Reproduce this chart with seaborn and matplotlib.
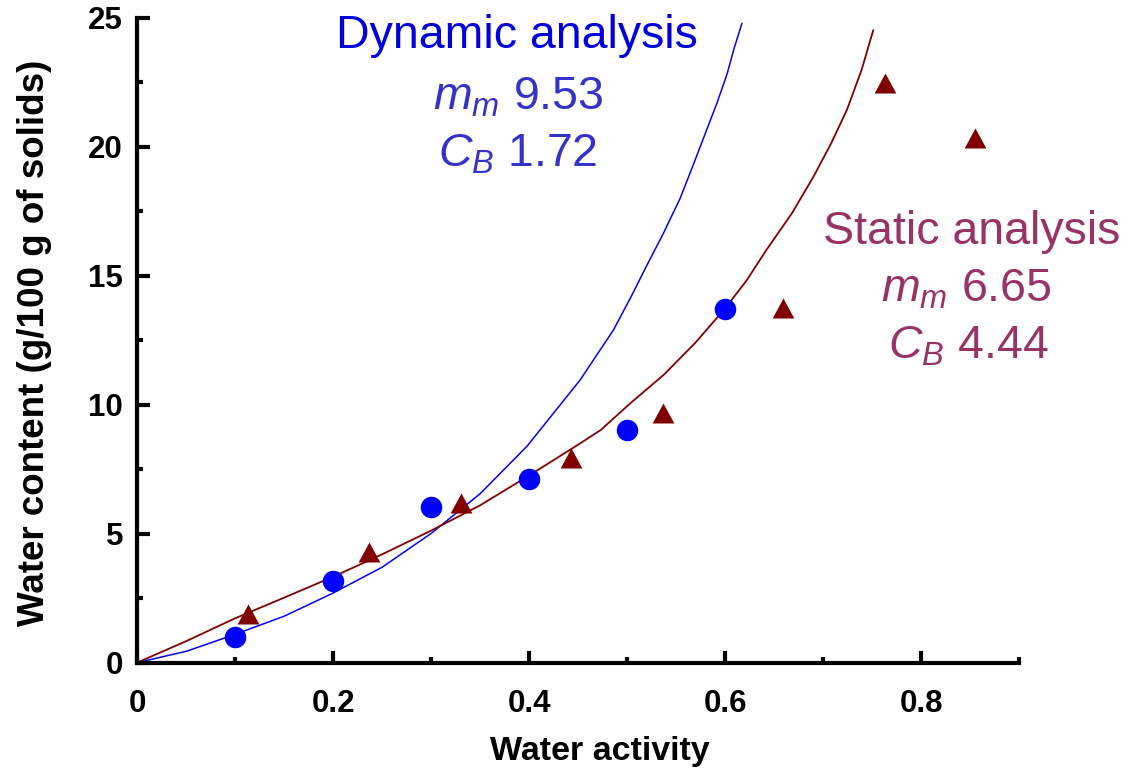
import numpy as np
import matplotlib
matplotlib.use("Agg")
import matplotlib.pyplot as plt
import seaborn as sns
from matplotlib.ticker import FixedLocator, MultipleLocator

# ---------------------------------------------------------
# data
# ---------------------------------------------------------

# dynamic analysis (blue circles)
aw_dyn = [0.1, 0.2, 0.3, 0.4, 0.5, 0.6]
m_dyn = [1.0, 3.17, 6.05, 7.12, 9.02, 13.70]

# static analysis (dark red triangles)
aw_sta = [0.113, 0.237, 0.330, 0.443, 0.537, 0.659, 0.763, 0.855]
m_sta = [1.88, 4.30, 6.18, 7.95, 9.69, 13.76, 22.48, 20.33]

# fitted curves
aw_dyn_fit = [0, 0.051, 0.100, 0.150, 0.200, 0.250, 0.300, 0.350, 0.398,
              0.452, 0.469, 0.486, 0.504, 0.520, 0.537, 0.554, 0.568,
              0.581, 0.592, 0.602, 0.609, 0.617]
m_dyn_fit = [0, 0.45, 1.10, 1.80, 2.70, 3.70, 5.01, 6.55, 8.40,
             10.96, 11.93, 12.90, 14.19, 15.40, 16.65, 18.00, 19.36,
             20.65, 21.74, 22.84, 23.81, 24.78]

aw_sta_fit = [0, 0.051, 0.100, 0.150, 0.200, 0.250, 0.300, 0.350, 0.398,
              0.452, 0.473, 0.503, 0.537, 0.569, 0.600, 0.622, 0.642,
              0.668, 0.690, 0.708, 0.724, 0.739, 0.751]
m_sta_fit = [0, 0.85, 1.72, 2.52, 3.33, 4.20, 5.12, 6.10, 7.21,
             8.50, 9.02, 10.05, 11.15, 12.38, 13.74, 14.83, 16.00,
             17.42, 18.84, 20.13, 21.42, 22.97, 24.52]

x_ticks = [0, 0.2, 0.4, 0.6, 0.8]
x_tick_labels = ["0", "0.2", "0.4", "0.6", "0.8"]
y_ticks = [0, 5, 10, 15, 20, 25]
y_tick_labels = ["0", "5", "10", "15", "20", "25"]

dyn_lines = ["Dynamic analysis", r"$m_m$ 9.53", r"$C_B$ 1.72"]
sta_lines = ["Static analysis", r"$m_m$ 6.65", r"$C_B$ 4.44"]

# ---------------------------------------------------------
# style
# ---------------------------------------------------------

sns.set_style("ticks")
plt.rcParams["font.family"] = ["Liberation Sans", "DejaVu Sans"]
plt.rcParams["mathtext.fontset"] = "custom"
plt.rcParams["mathtext.rm"] = "Liberation Sans"
plt.rcParams["mathtext.it"] = "Liberation Sans:italic"
for key in ["text.color", "axes.labelcolor", "xtick.color",
            "ytick.color", "axes.edgecolor"]:
    plt.rcParams[key] = "black"

BLUE = "#0000ff"
DARK_RED = "#800000"

W, H = 1128, 777
fig = plt.figure(figsize=(W / 100, H / 100), dpi=100)
ax = fig.add_axes([137 / W, 1 - 662.7 / H, 882.4 / W, 645.0 / H])

# ---------------------------------------------------------
# curves and points
# ---------------------------------------------------------

sns.lineplot(x=aw_dyn_fit, y=m_dyn_fit, sort=False, estimator=None,
             color=BLUE, lw=1.1, ax=ax)
sns.lineplot(x=aw_sta_fit, y=m_sta_fit, sort=False, estimator=None,
             color=DARK_RED, lw=1.3, ax=ax)

sns.scatterplot(x=aw_dyn, y=m_dyn, color=BLUE, s=240, marker="o",
                linewidth=0, ax=ax, zorder=3)

tri = [(-1, -0.92), (1, -0.92), (0, 0.92)]
sns.scatterplot(x=aw_sta, y=m_sta, color=DARK_RED, s=245, marker=tri,
                linewidth=0, ax=ax, zorder=3)

# ---------------------------------------------------------
# axes
# ---------------------------------------------------------

ax.set_xlim(0, 0.9)
ax.set_ylim(0, 25)
sns.despine(ax=ax)
for side in ["left", "bottom"]:
    ax.spines[side].set_linewidth(3)
    ax.spines[side].set_color("black")

ax.xaxis.set_major_locator(FixedLocator(x_ticks))
ax.set_xticklabels(x_tick_labels)
ax.xaxis.set_minor_locator(MultipleLocator(0.1))
ax.yaxis.set_major_locator(FixedLocator(y_ticks))
ax.set_yticklabels(y_tick_labels)
ax.yaxis.set_minor_locator(MultipleLocator(2.5))

ax.tick_params(which="major", direction="in", length=9, width=3,
               labelsize=22.5, colors="black")
ax.tick_params(which="minor", direction="in", length=4.5, width=3,
               colors="black")
ax.tick_params(axis="x", which="major", pad=19)
ax.tick_params(axis="y", which="major", pad=10)
for lbl in ax.get_xticklabels() + ax.get_yticklabels():
    lbl.set_fontweight("bold")

ax.set_xlabel("Water activity", fontsize=24.5, fontweight="bold")
ax.set_ylabel("Water content (g/100 g of solids)", fontsize=26.5,
              fontweight="bold")
ax.xaxis.set_label_coords((600 - 137) / 882.4, (662.7 - 736) / 645.0)
ax.yaxis.set_label_coords((52 - 137) / 882.4, (662.7 - 342.5) / 645.0)

# ---------------------------------------------------------
# annotations
# ---------------------------------------------------------

dyn_colors = ["#0000dd", "#3333cc", "#3333cc"]
dyn_pos = [(517, 48.3), (518, 109.3), (517.5, 166.7)]
for txt, col, (px, py) in zip(dyn_lines, dyn_colors, dyn_pos):
    fig.text(px / W, 1 - py / H, txt, ha="center", va="baseline",
             fontsize=33.5, color=col)

sta_pos = [(971.5, 244), (966, 301.7), (968, 358.3)]
for txt, (px, py) in zip(sta_lines, sta_pos):
    fig.text(px / W, 1 - py / H, txt, ha="center", va="baseline",
             fontsize=33.5, color="#993366")

fig.savefig("out.png", dpi=100)
